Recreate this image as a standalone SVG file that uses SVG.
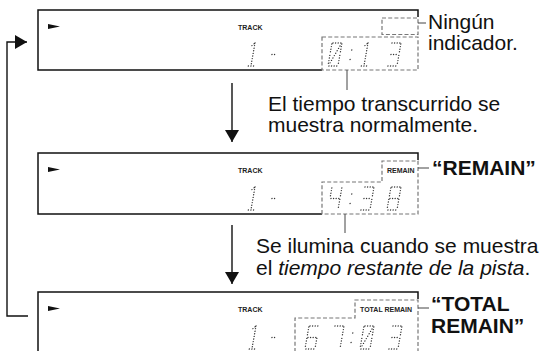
<svg xmlns="http://www.w3.org/2000/svg" xmlns:xlink="http://www.w3.org/1999/xlink" width="540" height="351" viewBox="0 0 540 351">
<style>
.frame{fill:none;stroke:#111;stroke-width:1.5}
.dash{fill:none;stroke:#777;stroke-width:1.2;stroke-dasharray:4 2.2}
.lead{fill:none;stroke:#444;stroke-width:1}
.conn{fill:none;stroke:#111;stroke-width:1.4}
.seg{fill:none;stroke:#333;stroke-width:1.4;stroke-linecap:round;stroke-dasharray:0 2.6}
.small{font-family:"Liberation Sans",Arial,sans-serif;font-size:7px;font-weight:bold;fill:#222}
.lbl{font-family:"Liberation Sans",Arial,sans-serif;font-size:21px;fill:#111}
.bold{font-weight:bold}
.play{fill:#111}
</style>
<defs>
<marker id="arrow" viewBox="0 0 12 14" refX="12" refY="7" markerWidth="12" markerHeight="14" markerUnits="userSpaceOnUse" orient="auto">
<path d="M0,0 L12,7 L0,14 Z" fill="#111"/>
</marker>
<g id="d0" transform="skewX(-10)"><path class="seg" d="M1,0 H9 M10,1 V10.6 M10,12.4 V22 M1,23 H9 M0,12.4 V22 M0,1 V10.6 M8.5,3 L1.5,20"/></g>
<g id="d1" transform="skewX(-10)"><path class="seg" d="M6,0 V23 M3.4,2.6 L6,0 M3.4,23 H9"/></g>
<g id="d3" transform="skewX(-10)"><path class="seg" d="M1,0 H9 M10,1 V10.6 M10,12.4 V22 M1,23 H9 M2,11.5 H9"/></g>
<g id="d4" transform="skewX(-10)"><path class="seg" d="M0,1 V10.6 M1,11.5 H9 M10,1 V10.6 M10,12.4 V22.5"/></g>
<g id="d6" transform="skewX(-10)"><path class="seg" d="M1,0 H9 M0,1 V10.6 M1,11.5 H9 M0,12.4 V22 M1,23 H9 M10,12.4 V22"/></g>
<g id="d7" transform="skewX(-10)"><path class="seg" d="M1,0 H9 M10,1 V10.6 M10,12.4 V22.5"/></g>
<g id="d8" transform="skewX(-10)"><path class="seg" d="M1,0 H9 M10,1 V10.6 M10,12.4 V22 M1,23 H9 M0,12.4 V22 M0,1 V10.6 M1,11.5 H9"/></g>
<g id="colon" transform="skewX(-10)"><path class="seg" d="M3,7 h0.01 M3,16.5 h0.01"/></g>
<g id="minus" transform="skewX(-10)"><path class="seg" d="M2,11.5 H4.7"/></g>
</defs>

<g id="display1">
<path class="frame" d="M418,17 V10 H38 V70 H322"/>
<rect class="dash" x="382" y="18" width="36" height="16.5"/>
<rect class="dash" x="322" y="37" width="96" height="33"/>
<polygon class="play" points="48,24 60,26.5 48,29"/>
<text class="small" x="238" y="30">TRACK</text>
<use xlink:href="#d1" x="249" y="43"/>
<use xlink:href="#minus" x="272" y="43"/>
<use xlink:href="#d0" x="332" y="43"/>
<use xlink:href="#colon" x="350" y="43"/>
<use xlink:href="#d1" x="362" y="43"/>
<use xlink:href="#d3" x="391" y="43"/>
</g>

<g id="display2">
<path class="frame" d="M418,160 V153 H38 V214 H322"/>
<path class="dash" d="M322,214 V182 H382 V161 H418 V214 Z"/>
<polygon class="play" points="48,167 60,169.5 48,172"/>
<text class="small" x="238" y="173">TRACK</text>
<text class="small" x="387" y="173">REMAIN</text>
<use xlink:href="#d1" x="249" y="187"/>
<use xlink:href="#minus" x="272" y="187"/>
<use xlink:href="#d4" x="332" y="187"/>
<use xlink:href="#colon" x="350" y="187"/>
<use xlink:href="#d3" x="364" y="187"/>
<use xlink:href="#d8" x="391" y="187"/>
</g>

<g id="display3">
<path class="frame" d="M418,299 V292 H38 V352"/>
<path class="dash" d="M295,352 V318 H355 V300 H418 V352"/>
<polygon class="play" points="48,306 60,308.5 48,311"/>
<text class="small" x="238" y="312">TRACK</text>
<text class="small" x="360" y="312">TOTAL REMAIN</text>
<use xlink:href="#d1" x="250" y="326"/>
<use xlink:href="#minus" x="272" y="326"/>
<use xlink:href="#d6" x="309" y="326"/>
<use xlink:href="#d7" x="334" y="326"/>
<use xlink:href="#colon" x="351" y="326"/>
<use xlink:href="#d0" x="364" y="326"/>
<use xlink:href="#d3" x="392" y="326"/>
</g>

<g id="connectors">
<path class="conn" d="M28,316 H7 V42 H27" marker-end="url(#arrow)"/>
<path class="conn" d="M232,83 V142" marker-end="url(#arrow)"/>
<path class="conn" d="M232,225 V284" marker-end="url(#arrow)"/>
<path class="lead" d="M418,23 H426"/>
<path class="lead" d="M347,70 V90"/>
<path class="lead" d="M418,168 H429"/>
<path class="lead" d="M345,214 V233"/>
<path class="lead" d="M418,308 H429"/>
</g>

<g id="labels">
<text class="lbl" x="428" y="29">Ningún</text>
<text class="lbl" x="428" y="50">indicador.</text>
<text class="lbl" x="268" y="111">El tiempo transcurrido se</text>
<text class="lbl" x="268" y="132">muestra normalmente.</text>
<text class="lbl bold" x="432" y="175">“REMAIN”</text>
<text class="lbl" x="256" y="253">Se ilumina cuando se muestra</text>
<text class="lbl" x="256" y="275">el <tspan font-style="italic">tiempo restante de la pista</tspan>.</text>
<text class="lbl bold" x="431" y="311">“TOTAL</text>
<text class="lbl bold" x="431" y="333">REMAIN”</text>
</g>
</svg>
